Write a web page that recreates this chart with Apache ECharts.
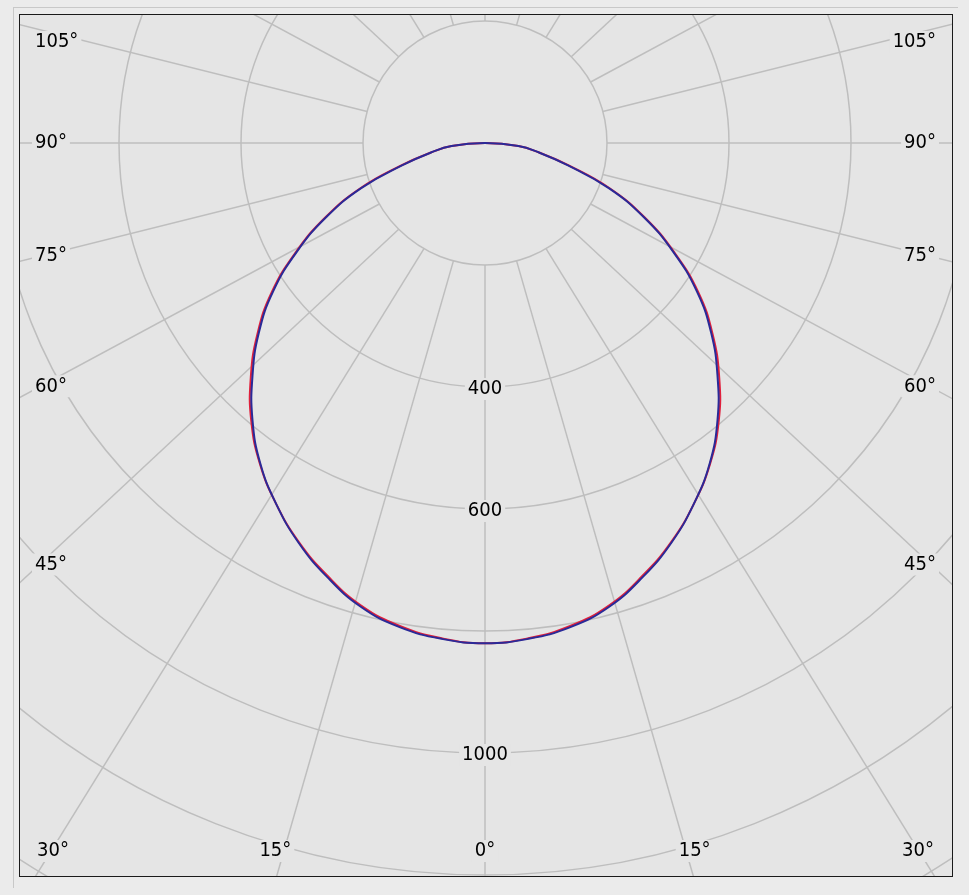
<!DOCTYPE html>
<html><head><meta charset="utf-8">
<script src="https://cdn.jsdelivr.net/npm/echarts@6/dist/echarts.min.js"></script>
<style>
html,body{margin:0;padding:0;background:#ebebeb;width:969px;height:895px;overflow:hidden;}
#outer{position:absolute;left:13px;top:7px;width:944px;height:880px;border-top:1px solid #c8c8c8;border-left:1px solid #c8c8c8;}
#frame{position:absolute;left:19px;top:14px;width:932px;height:861px;border:1px solid #1a1a1a;background:#e5e5e5;}
#chart{width:932px;height:861px;}
</style></head><body>
<div id="outer"></div>
<div id="frame"><div id="chart"></div></div>
<script>
// ---- data ----
const angleDeg   = [0, 5, 10, 15, 20, 25, 30, 35, 40, 45, 50, 55, 60, 65, 70, 75, 80, 85, 90];
const bluePlane  = [820, 816, 806, 787, 757, 723, 684, 642, 593, 539, 484, 424, 356, 287, 216, 140, 90, 55, 0];
const redPlane   = [820, 815, 804, 785, 755, 722, 684, 643, 596, 543, 487, 427, 358, 289, 218, 142, 90, 55, 0];
const gridAngles = [0, 15, 30, 45, 60, 75, 90, 105, 120, 135, 150, 165, 180];
const radiusTickLabels = [400, 600, 1000];
const angleTickLabels  = [0, 15, 30, 45, 60, 75, 90, 105];

// ---- geometry ----
const CX = 465, CY = 128;          // pole in chart pixels
const PX_PER_UNIT = 0.61;
const RMIN_GRID = 200, RMAX = 1600;
const SKEW = 1.063;                // radial lines are drawn slightly stretched horizontally
const FONT_FAMILY = "'DejaVu Sans Condensed', 'Liberation Sans', sans-serif";
const FONT = "20px " + FONT_FAMILY;
const BG = '#e5e5e5';
const SMOOTH = 0.45;

function skew(a) {
  if (a === 0 || a === 90 || a === 180) return a;
  const r = Math.PI / 180;
  if (a < 90) return Math.atan(SKEW * Math.tan(a * r)) / r;
  return 180 - Math.atan(SKEW * Math.tan((180 - a) * r)) / r;
}
// right half (C0 side, 360-θ) from 90° down to 0°, then left half 0°..90°
function buildCurve(vals) {
  const d = [];
  for (let i = angleDeg.length - 1; i > 0; i--) d.push([vals[i], 360 - angleDeg[i]]);
  for (let i = 0; i < angleDeg.length; i++) d.push([vals[i], angleDeg[i]]);
  return d;
}
const measureCtx = document.createElement('canvas').getContext('2d');
measureCtx.font = FONT;
function textWidth(t) { return measureCtx.measureText(t).width; }
function dist(a, b) { return Math.hypot(a[0] - b[0], a[1] - b[1]) || 1e-6; }

function curveSeries(name, vals, color, z) {
  return {
    type: 'custom', coordinateSystem: 'polar', name: name, z: z, silent: true, clip: false,
    data: [[vals[0], 0]],
    renderItem: function (params, api) {
      const pts = buildCurve(vals).map(d => api.coord(d));
      pts.pop();                       // both ends sit on the pole: treat as closed loop
      const n = pts.length;
      const P = i => pts[((i % n) + n) % n];
      let path = 'M ' + P(0)[0] + ' ' + P(0)[1];
      for (let i = 0; i < n; i++) {
        const p0 = P(i - 1), p1 = P(i), p2 = P(i + 1), p3 = P(i + 2);
        const d0 = dist(p0, p1), d1 = dist(p1, p2), d2 = dist(p2, p3);
        const k1 = SMOOTH * d1 / (d0 + d1), k2 = SMOOTH * d1 / (d1 + d2);
        const c1x = p1[0] + (p2[0] - p0[0]) * k1, c1y = p1[1] + (p2[1] - p0[1]) * k1;
        const c2x = p2[0] - (p3[0] - p1[0]) * k2, c2y = p2[1] - (p3[1] - p1[1]) * k2;
        path += ' C ' + c1x + ' ' + c1y + ' ' + c2x + ' ' + c2y + ' ' + p2[0] + ' ' + p2[1];
      }
      return {
        type: 'path', shape: { pathData: path },
        style: { fill: 'none', stroke: color, lineWidth: 2 }
      };
    }
  };
}

const series = [];
gridAngles.forEach(a => {
  const sides = (a === 0 || a === 180) ? [1] : [1, -1];
  sides.forEach(s => {
    const toVal = x => s > 0 ? x : 360 - x;
    series.push({
      type: 'line', coordinateSystem: 'polar', silent: true, symbol: 'none', clip: false, z: 1,
      lineStyle: { color: '#bebebe', width: 1.5 },
      data: [[RMIN_GRID, toVal(a)], [RMAX, toVal(skew(a))]]
    });
  });
});
series.push(curveSeries('C90-C270', redPlane, '#e0203c', 3));
series.push(curveSeries('C0-C180', bluePlane, '#2a2a98', 4));

function textEl(txt, x, y, align) {
  return {
    type: 'text', x: x, y: y, z: 10, silent: true,
    style: {
      text: txt, fill: '#000', font: FONT,
      align: align, textAlign: align, verticalAlign: 'middle', textVerticalAlign: 'middle',
      backgroundColor: BG, padding: [1, 3]
    }
  };
}

// angle labels placed where the (stretched) ray meets an inset rectangle
const LBL = { left: 17, right: 913, bottom: 836, top: 27, textLeft: 12, textRight: 919, botLeft: 17, botRight: 914, shift: 8 };
const graphics = [];
angleTickLabels.forEach(a => {
  const sides = a === 0 ? [1] : [-1, 1];
  sides.forEach(side => {
    const txt = a + '°';
    const s = skew(a) * Math.PI / 180;
    const dx = Math.sin(s) * side, dy = Math.cos(s);
    let t = Infinity, edge = 'bottom';
    if (Math.abs(dx) > 1e-9) {
      const tx = ((side < 0 ? LBL.left : LBL.right) - CX) / dx;
      if (tx > 0) { t = tx; edge = 'side'; }
    }
    if (dy > 1e-9) {
      const ty = (LBL.bottom - CY) / dy;
      if (ty < t) { t = ty; edge = 'bottom'; }
    }
    let x = CX + dx * t, y = CY + dy * t;
    y = Math.max(LBL.top, Math.min(LBL.bottom, y));
    let align = 'center';
    if (edge === 'side') {
      x = side < 0 ? LBL.textLeft : LBL.textRight;
      align = side < 0 ? 'left' : 'right';
    } else {
      const hw = textWidth(txt) / 2;
      if (a !== 0) x += side * LBL.shift;
      x = Math.max(LBL.botLeft + hw, Math.min(LBL.botRight - hw, x));
    }
    graphics.push(textEl(txt, x, y, 'center' === align ? 'center' : align));
  });
});

const chart = echarts.init(document.getElementById('chart'), null, { renderer: 'canvas' });
chart.setOption({
  animation: false,
  backgroundColor: BG,
  polar: { center: [CX, CY], radius: RMAX * PX_PER_UNIT },
  angleAxis: {
    type: 'value', min: 0, max: 360, startAngle: 270, clockwise: true,
    axisLine: { show: false }, axisTick: { show: false }, axisLabel: { show: false }, splitLine: { show: false }
  },
  radiusAxis: {
    type: 'value', min: 0, max: RMAX, interval: 200,
    axisLine: { show: false }, axisTick: { show: false }, axisLabel: { show: false },
    splitLine: { show: true, lineStyle: { color: '#bebebe', width: 1.5 } }
  },
  series: series
});

// radius tick labels sit on the 0° ray, positioned through the polar scale
radiusTickLabels.forEach(v => {
  const p = chart.convertToPixel({ seriesIndex: 0 }, [v, 0]);
  graphics.push(textEl(String(v), p[0], p[1] + 2, 'center'));
});
chart.setOption({ graphic: graphics });
</script>
</body></html>
